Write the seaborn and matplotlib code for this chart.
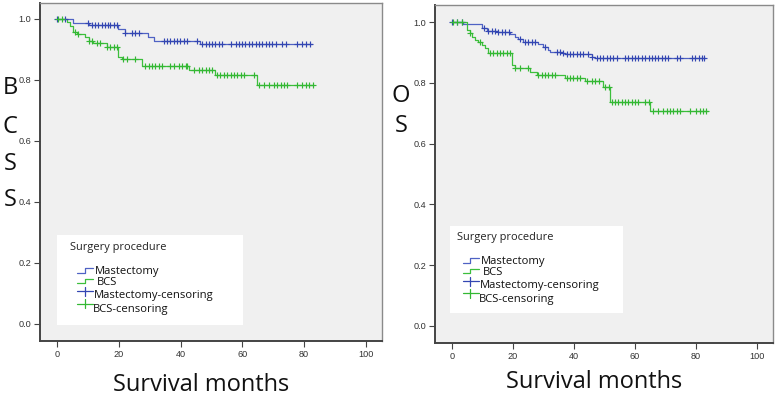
import numpy as np
import pandas as pd
import matplotlib
matplotlib.use("Agg")
import matplotlib.pyplot as plt
import seaborn as sns
from matplotlib.lines import Line2D
from matplotlib.patches import Rectangle

# ---------------- data ----------------
groups = ["Mastectomy", "BCS"]
x_ticks = [0, 20, 40, 60, 80, 100]
y_ticks = [0.0, 0.2, 0.4, 0.6, 0.8, 1.0]
legend_title = "Surgery procedure"
legend_labels = ["Mastectomy", "BCS", "Mastectomy-censoring", "BCS-censoring"]

# BCSS panel - step curves (time, survival); last point = end of follow-up
bcss_mast_t = [0, 5.3, 10.2, 19.9, 22.0, 29.6, 31.3, 46.4, 82.7]
bcss_mast_s = [1.0, 0.988, 0.980, 0.966, 0.955, 0.942, 0.929, 0.918, 0.918]
bcss_bcs_t = [0, 3.1, 4.2, 5.3, 6.4, 9.1, 10.2, 11.8, 16.1, 19.9, 21.0, 27.5, 42.6, 51.3, 64.8, 83.2]
bcss_bcs_s = [1.0, 0.991, 0.975, 0.958, 0.950, 0.940, 0.929, 0.920, 0.909, 0.876, 0.867, 0.847,
              0.833, 0.816, 0.784, 0.784]
bcss_mast_cens = [0, 2.6, 9.9, 11.3, 12.3, 13.4, 14.5, 15.6, 16.4, 17.2, 18.3, 19.4, 22.1, 24.2,
                  25.3, 26.4, 34.5, 35.6, 36.7, 37.8, 38.9, 39.9, 41.0, 42.1, 45.3, 47.0, 48.1,
                  49.1, 50.2, 51.3, 52.4, 53.5, 56.2, 57.8, 58.9, 60.0, 61.0, 62.1, 63.2, 64.3,
                  65.4, 66.5, 67.5, 68.6, 69.7, 70.8, 72.9, 74.0, 77.8, 79.4, 80.5, 81.9]
bcss_bcs_cens = [0.4, 1.5, 5.8, 6.9, 10.2, 11.3, 12.9, 14.0, 16.1, 17.2, 18.3, 19.4, 21.5, 22.6,
                 25.3, 28.6, 29.7, 30.8, 31.8, 32.9, 34.0, 36.7, 37.8, 39.4, 40.5, 41.6, 42.2,
                 44.3, 45.9, 47.0, 48.1, 49.1, 50.2, 51.8, 52.9, 54.0, 55.1, 56.2, 57.3, 58.3,
                 59.4, 60.5, 63.7, 65.5, 67.1, 68.6, 70.2, 71.3, 72.4, 73.5, 74.5, 77.8, 79.4,
                 80.5, 81.6, 83.0]

# OS panel
os_mast_t = [0, 3.7, 9.7, 11.4, 15.2, 19.0, 20.7, 21.7, 23.4, 28.3, 29.9, 31.6, 32.1, 36.5, 37.0,
             45.8, 46.9, 82.9]
os_mast_s = [1.0, 0.993, 0.979, 0.971, 0.966, 0.960, 0.952, 0.944, 0.935, 0.927, 0.917, 0.908,
             0.900, 0.897, 0.895, 0.886, 0.881, 0.881]
os_bcs_t = [0, 4.8, 5.9, 6.4, 7.5, 8.6, 9.7, 10.8, 11.9, 19.6, 20.7, 25.6, 27.8, 37.0, 43.6, 49.6,
            51.8, 64.9, 84.0]
os_bcs_s = [1.0, 0.974, 0.963, 0.952, 0.941, 0.933, 0.924, 0.913, 0.897, 0.859, 0.848, 0.837,
            0.826, 0.815, 0.806, 0.785, 0.738, 0.708, 0.708]
os_mast_cens = [0, 1.5, 3.2, 10.3, 11.9, 13.0, 14.1, 15.2, 16.3, 17.4, 18.5, 22.3, 23.9, 25.0,
                26.1, 27.2, 30.5, 34.3, 35.4, 36.5, 37.6, 38.7, 39.8, 40.9, 42.0, 43.0, 44.7,
                45.8, 47.4, 48.5, 49.6, 50.7, 51.8, 52.9, 54.0, 56.7, 57.8, 58.9, 60.0, 61.1,
                62.2, 63.3, 64.4, 65.5, 66.6, 67.6, 68.8, 69.8, 70.9, 73.7, 74.8, 78.6, 79.7,
                80.8, 81.9, 82.6]
os_bcs_cens = [0.4, 1.5, 3.2, 5.9, 9.2, 12.5, 13.5, 14.7, 15.7, 16.8, 17.9, 19.0, 20.7, 22.3,
               25.0, 28.3, 29.4, 30.5, 31.6, 32.7, 33.8, 37.6, 38.7, 39.8, 40.9, 42.0, 44.2,
               45.8, 46.9, 48.0, 50.2, 51.3, 52.3, 53.4, 54.5, 55.6, 56.7, 57.8, 58.9, 60.0,
               61.1, 63.3, 64.4, 66.0, 67.6, 69.3, 70.4, 71.5, 72.5, 73.7, 74.8, 78.0, 80.1,
               81.2, 82.3, 83.4]

# ---------------- styling ----------------
W, H = 777, 397
LINE_COL = {"Mastectomy": "#4f62c4", "BCS": "#3cbf3c"}
CENS_COL = {"Mastectomy": "#3346b2", "BCS": "#33b833"}
BG = "#f0f0f0"
TXT_FONT = ["Open Sans", "DejaVu Sans"]
TICK_FONT = ["Liberation Sans", "DejaVu Sans"]

sns.set_theme(style="white")
plt.rcParams["font.family"] = TXT_FONT

fig = plt.figure(figsize=(W / 100, H / 100), dpi=100)
fig.patch.set_facecolor("white")


def fx(px):
    return px / W


def fy(py):
    return 1 - py / H


def step_value(times, surv, c):
    idx = np.searchsorted(np.asarray(times), c, side="right") - 1
    return np.asarray(surv)[idx]


def build_frames(mt, ms, bt, bs, mc, bc):
    curves = pd.concat([
        pd.DataFrame({"time": mt, "surv": ms, "group": groups[0]}),
        pd.DataFrame({"time": bt, "surv": bs, "group": groups[1]}),
    ], ignore_index=True)
    cens = pd.concat([
        pd.DataFrame({"time": mc, "surv": step_value(mt, ms, np.asarray(mc)), "group": groups[0]}),
        pd.DataFrame({"time": bc, "surv": step_value(bt, bs, np.asarray(bc)), "group": groups[1]}),
    ], ignore_index=True)
    return curves, cens


def draw_panel(rect_px, xlim, ylim, curves, cens):
    l, t, r, b = rect_px
    ax = fig.add_axes([fx(l), fy(b), (r - l) / W, (b - t) / H])
    ax.set_facecolor(BG)
    for g in groups:
        sub = curves[curves.group == g]
        sns.lineplot(data=sub, x="time", y="surv", ax=ax, color=LINE_COL[g],
                     drawstyle="steps-post", linewidth=0.9, estimator=None, sort=True,
                     legend=False)
        csub = cens[cens.group == g]
        sns.scatterplot(data=csub, x="time", y="surv", ax=ax, marker="+", s=20,
                        color=CENS_COL[g], linewidth=0.85, legend=False, zorder=3)
    ax.set_xlim(*xlim)
    ax.set_ylim(*ylim)
    ax.set_xticks(x_ticks)
    ax.set_yticks(y_ticks)
    ax.set_xticklabels([str(v) for v in x_ticks])
    ax.set_yticklabels([f"{v:.1f}" for v in y_ticks])
    ax.tick_params(axis="both", direction="out", length=4.5, width=0.8, color="#444444",
                   labelsize=6.6, labelcolor="#333333", pad=2, bottom=True, left=True)
    for lab in ax.get_xticklabels() + ax.get_yticklabels():
        lab.set_family(TICK_FONT)
    ax.set_xlabel("")
    ax.set_ylabel("")
    for side in ["left", "bottom"]:
        ax.spines[side].set_color("#444444")
        ax.spines[side].set_linewidth(1.4)
    for side in ["top", "right"]:
        ax.spines[side].set_color("#8a8a8a")
        ax.spines[side].set_linewidth(1.0)
    ax.grid(False)
    return ax


def draw_legend(box, title_xy, items):
    x0, y0, x1, y1 = box
    fig.add_artist(Rectangle((fx(x0), fy(y1)), (x1 - x0) / W, (y1 - y0) / H,
                             transform=fig.transFigure, facecolor="white",
                             edgecolor="none", zorder=5))
    fig.text(fx(title_xy[0]), fy(title_xy[1]), legend_title, fontsize=7.9,
             color="#222222", ha="left", va="center", zorder=6)
    for kind, g, label, (hx0, hx1, hxs, hy_lo, hy_hi), (tx, ty) in items:
        if kind == "line":
            fig.add_artist(Line2D([fx(hx0), fx(hxs), fx(hxs), fx(hx1)],
                                  [fy(hy_lo), fy(hy_lo), fy(hy_hi), fy(hy_hi)],
                                  transform=fig.transFigure, color=LINE_COL[g],
                                  linewidth=0.9, zorder=6))
        else:
            fig.add_artist(Line2D([fx(hx0), fx(hx1)], [fy(hy_lo), fy(hy_lo)],
                                  transform=fig.transFigure, color=CENS_COL[g],
                                  linewidth=0.9, zorder=6))
            fig.add_artist(Line2D([fx(hxs), fx(hxs)], [fy(hy_lo - 4.5), fy(hy_lo + 4.5)],
                                  transform=fig.transFigure, color=CENS_COL[g],
                                  linewidth=0.9, zorder=6))
        fig.text(fx(tx), fy(ty), label, fontsize=8.1, color="#111111",
                 ha="left", va="center", zorder=6)


# ---------------- left panel: BCSS ----------------
c1, k1 = build_frames(bcss_mast_t, bcss_mast_s, bcss_bcs_t, bcss_bcs_s, bcss_mast_cens, bcss_bcs_cens)
ax1 = draw_panel((40, 3, 382, 341), (-5.5, 105.2), (-0.056, 1.052), c1, k1)

# ---------------- right panel: OS ----------------
c2, k2 = build_frames(os_mast_t, os_mast_s, os_bcs_t, os_bcs_s, os_mast_cens, os_bcs_cens)
ax2 = draw_panel((435, 5, 773, 343), (-5.6, 105.2), (-0.056, 1.056), c2, k2)

# ---------------- axis titles ----------------
for ch, py in zip("BCSS", [88, 127, 164, 200]):
    fig.text(fx(10), fy(py), ch, fontsize=17, color="#111111", ha="center", va="center")
for ch, py in zip("OS", [96, 126]):
    fig.text(fx(401), fy(py), ch, fontsize=17, color="#111111", ha="center", va="center")
fig.text(fx(201), fy(385), "Survival months", fontsize=17, color="#111111", ha="center", va="center")
fig.text(fx(594), fy(382), "Survival months", fontsize=17, color="#111111", ha="center", va="center")

# ---------------- legends ----------------
draw_legend((57, 235, 243, 325), (70, 247.7), [
    ("line", "Mastectomy", legend_labels[0], (76.7, 92.7, 85, 272.7, 268.3), (95, 271.2)),
    ("line", "BCS", legend_labels[1], (76.7, 92.7, 85, 283.3, 279.3), (96.7, 282.8)),
    ("cens", "Mastectomy", legend_labels[2], (76.7, 93, 85, 291, 291), (94.3, 295.8)),
    ("cens", "BCS", legend_labels[3], (76.7, 93, 85, 303.5, 303.5), (92.7, 309.4)),
])
draw_legend((450, 226, 623, 313), (456.7, 237.3), [
    ("line", "Mastectomy", legend_labels[0], (462.7, 479.3, 470, 262.7, 257.7), (481, 261.2)),
    ("line", "BCS", legend_labels[1], (462.7, 479.3, 470, 273.3, 269.3), (483, 272.8)),
    ("cens", "Mastectomy", legend_labels[2], (462.7, 479.3, 470, 281, 281), (480, 285.4)),
    ("cens", "BCS", legend_labels[3], (462.7, 479.3, 470, 293.3, 293.3), (479, 299.2)),
])

fig.savefig("out.png", dpi=100, facecolor="white")
